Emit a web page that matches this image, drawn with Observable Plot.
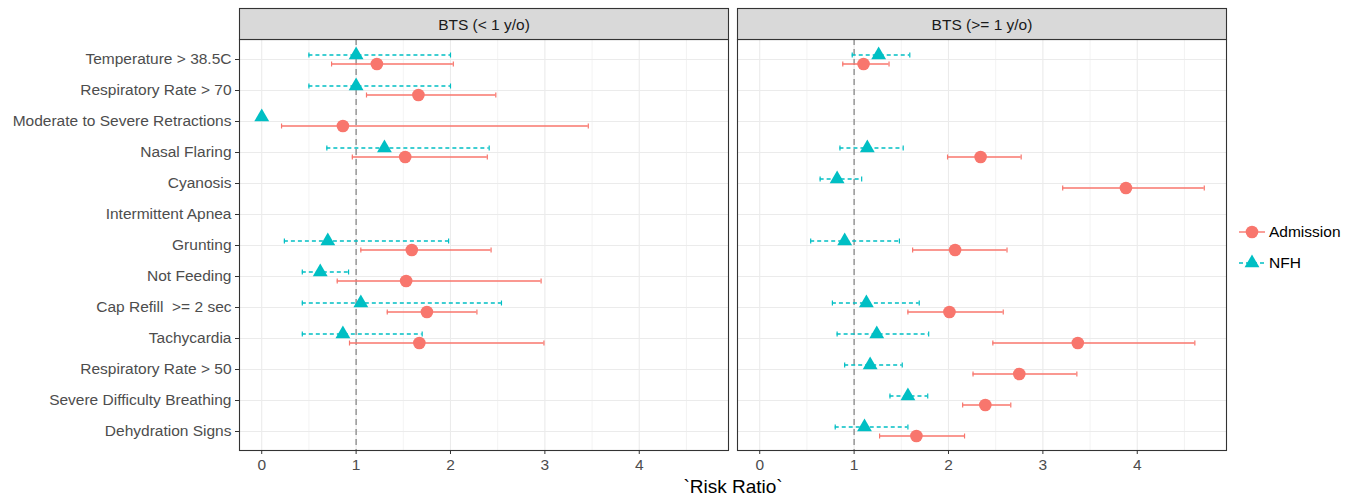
<!DOCTYPE html>
<html>
<head>
<meta charset="utf-8">
<script src="https://cdn.jsdelivr.net/npm/d3@7"></script>
<script src="https://cdn.jsdelivr.net/npm/@observablehq/plot@0.6"></script>
<style>
  body { margin: 0; background: #fff; font-family: "Liberation Sans", Arial, sans-serif; }
  #wrap { position: relative; width: 1359px; height: 504px; }
  #legend { position: absolute; left: 1237px; top: 216px; font-size: 15.5px; color: #000; }
  .key { display: flex; align-items: center; height: 31px; }
  .key svg { margin-right: 2px; }
</style>
</head>
<body>
<div id="wrap"><div id="legend"></div></div>
<script>
// ---- data ----
const categories = [
  "Temperature > 38.5C", "Respiratory Rate > 70", "Moderate to Severe Retractions",
  "Nasal Flaring", "Cyanosis", "Intermittent Apnea", "Grunting", "Not Feeding",
  "Cap Refill  >= 2 sec", "Tachycardia", "Respiratory Rate > 50",
  "Severe Difficulty Breathing", "Dehydration Signs"
];
const panels = ["BTS (< 1 y/o)", "BTS (>= 1 y/o)"];
const groups = ["Admission", "NFH"];
const xTicks = [0, 1, 2, 3, 4];
const xMinor = [0.5, 1.5, 2.5, 3.5, 4.5];

// BTS (< 1 y/o)
const admYoungRR = [1.22, 1.66, 0.86, 1.52, null, null, 1.59, 1.53, 1.75, 1.67, null, null, null];
const admYoungLo = [0.74, 1.11, 0.21, 0.96, null, null, 1.05, 0.80, 1.33, 0.93, null, null, null];
const admYoungHi = [2.03, 2.48, 3.46, 2.39, null, null, 2.43, 2.96, 2.28, 2.99, null, null, null];
const nfhYoungRR = [1.00, 1.00, 0.00, 1.30, null, null, 0.70, 0.62, 1.05, 0.86, null, null, null];
const nfhYoungLo = [0.50, 0.50, null, 0.69, null, null, 0.24, 0.43, 0.43, 0.43, null, null, null];
const nfhYoungHi = [2.00, 2.00, null, 2.41, null, null, 1.98, 0.92, 2.54, 1.70, null, null, null];

// BTS (>= 1 y/o)
const admOldRR = [1.10, null, null, 2.34, 3.88, null, 2.07, null, 2.01, 3.37, 2.75, 2.39, 1.66];
const admOldLo = [0.88, null, null, 1.99, 3.21, null, 1.62, null, 1.57, 2.47, 2.26, 2.15, 1.27];
const admOldHi = [1.37, null, null, 2.77, 4.71, null, 2.62, null, 2.58, 4.61, 3.36, 2.66, 2.17];
const nfhOldRR = [1.26, null, null, 1.14, 0.82, null, 0.90, null, 1.13, 1.24, 1.17, 1.57, 1.11];
const nfhOldLo = [0.98, null, null, 0.85, 0.64, null, 0.54, null, 0.77, 0.82, 0.90, 1.38, 0.80];
const nfhOldHi = [1.59, null, null, 1.52, 1.08, null, 1.48, null, 1.69, 1.79, 1.51, 1.78, 1.57];

const colors = {Admission: "#F8766D", NFH: "#00BFC4"};

// ---- build table ----
function rows(panel, group, rr, lo, hi) {
  return categories.map((cat, i) => ({panel, group, cat, rr: rr[i], lo: lo[i], hi: hi[i]}))
    .filter(d => d.rr != null);
}
const adm = [
  ...rows(panels[0], groups[0], admYoungRR, admYoungLo, admYoungHi),
  ...rows(panels[1], groups[0], admOldRR, admOldLo, admOldHi)
];
const nfh = [
  ...rows(panels[0], groups[1], nfhYoungRR, nfhYoungLo, nfhYoungHi),
  ...rows(panels[1], groups[1], nfhOldRR, nfhOldLo, nfhOldHi)
];
const admCI = adm.filter(d => d.lo != null);
const nfhCI = nfh.filter(d => d.lo != null);

const cap = {draw(ctx, size) { const h = Math.sqrt(size / Math.PI); ctx.moveTo(0, -h); ctx.lineTo(0, h); }};
const DY = 4.5;
const textCol = "#4d4d4d";

const chart = Plot.plot({
  width: 1359,
  height: 504,
  marginLeft: 239,
  marginRight: 133,
  marginTop: 39,
  marginBottom: 54,
  style: {fontFamily: "'Liberation Sans', Arial, sans-serif", background: "white"},
  fx: {domain: panels, paddingInner: 9 / 498, paddingOuter: 0, axis: null},
  x: {domain: [-0.2355, 4.9455]},
  y: {domain: categories, type: "point", padding: 0.58},
  marks: [
    Plot.gridX(xMinor, {stroke: "#ebebeb", strokeOpacity: 1, strokeWidth: 0.6}),
    Plot.gridX(xTicks, {stroke: "#ebebeb", strokeOpacity: 1, strokeWidth: 1.1}),
    Plot.gridY(categories, {stroke: "#ebebeb", strokeOpacity: 1, strokeWidth: 1.1}),
    Plot.ruleX([1], {stroke: "#808080", strokeWidth: 1.2, strokeDasharray: "6,4"}),
    // NFH CIs
    Plot.ruleY(nfhCI, {fx: "panel", y: "cat", x1: "lo", x2: "hi", dy: -DY, stroke: colors.NFH, strokeWidth: 1.4, strokeDasharray: "4,3"}),
    Plot.dot(nfhCI, {fx: "panel", y: "cat", x: "lo", dy: -DY, symbol: cap, r: 2.5, stroke: colors.NFH, fill: "none", strokeWidth: 1.2}),
    Plot.dot(nfhCI, {fx: "panel", y: "cat", x: "hi", dy: -DY, symbol: cap, r: 2.5, stroke: colors.NFH, fill: "none", strokeWidth: 1.2}),
    // Admission CIs
    Plot.ruleY(admCI, {fx: "panel", y: "cat", x1: "lo", x2: "hi", dy: DY, stroke: colors.Admission, strokeWidth: 1.4}),
    Plot.dot(admCI, {fx: "panel", y: "cat", x: "lo", dy: DY, symbol: cap, r: 2.5, stroke: colors.Admission, fill: "none", strokeWidth: 1.2}),
    Plot.dot(admCI, {fx: "panel", y: "cat", x: "hi", dy: DY, symbol: cap, r: 2.5, stroke: colors.Admission, fill: "none", strokeWidth: 1.2}),
    // points
    Plot.dot(nfh, {fx: "panel", y: "cat", x: "rr", dy: -DY, symbol: "triangle", r: 5.5, fill: colors.NFH, stroke: "none"}),
    Plot.dot(adm, {fx: "panel", y: "cat", x: "rr", dy: DY, symbol: "circle", r: 6.3, fill: colors.Admission, stroke: "none"}),
    // panel border and strip
    Plot.frame({stroke: "#333333", strokeWidth: 1.1}),
    Plot.frame({fill: "#d9d9d9", stroke: "#333333", strokeWidth: 1.1, insetTop: -31, insetBottom: 411}),
    Plot.text(panels, {fx: d => d, text: d => d, frameAnchor: "top", lineAnchor: "middle", dy: -14.5, fontSize: 15.5, fill: "#1a1a1a"}),
    // axes
    Plot.axisY({tickSize: 4, tickPadding: 4, fontSize: 15.5, fill: textCol, stroke: "#333333", label: null}),
    Plot.axisX({ticks: xTicks, tickFormat: d => String(d), tickSize: 4, tickPadding: 4, fontSize: 15.5, fill: textCol, stroke: "#333333", label: null}),
    Plot.text(["`Risk Ratio`"], {facet: "super", frameAnchor: "bottom", lineAnchor: "middle", dy: 36, fontSize: 19, fill: "#000"})
  ]
});
document.getElementById("wrap").prepend(chart);

// legend
const legend = d3.select("#legend");
function key(group, symbol, dashed) {
  const row = legend.append("div").attr("class", "key");
  const svg = row.append("svg").attr("width", 30).attr("height", 20);
  svg.append("line").attr("x1", 2).attr("x2", 28).attr("y1", 10).attr("y2", 10)
    .attr("stroke", colors[group]).attr("stroke-width", 1.4).attr("stroke-dasharray", dashed ? "4,3" : null);
  svg.append("path").attr("transform", "translate(15,10)")
    .attr("d", d3.symbol(symbol, symbol === d3.symbolCircle ? Math.PI * 6.3 * 6.3 : Math.PI * 5.5 * 5.5)())
    .attr("fill", colors[group]);
  row.append("span").text(group);
}
key("Admission", d3.symbolCircle, false);
key("NFH", d3.symbolTriangle, true);
</script>
</body>
</html>
